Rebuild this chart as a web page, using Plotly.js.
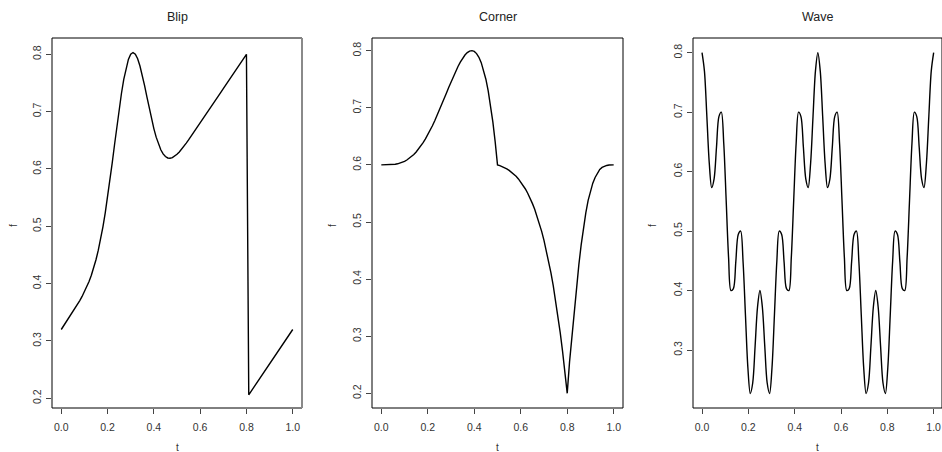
<!DOCTYPE html>
<html>
<head>
<meta charset="utf-8">
<script src="https://cdn.plot.ly/plotly-3.0.1.min.js"></script>
<style>
  html, body { margin: 0; padding: 0; background: #fff; }
  #chart { width: 942px; height: 452px; }
</style>
</head>
<body>
<div id="chart"></div>
<script>
// ---------- data ----------
const panelTitles = ['Blip', 'Corner', 'Wave'];

const tGrid = [0,0.01,0.02,0.03,0.04,0.05,0.06,0.07,0.08,0.09,
  0.10,0.11,0.12,0.13,0.14,0.15,0.16,0.17,0.18,0.19,
  0.20,0.21,0.22,0.23,0.24,0.25,0.26,0.27,0.28,0.29,
  0.30,0.31,0.32,0.33,0.34,0.35,0.36,0.37,0.38,0.39,
  0.40,0.41,0.42,0.43,0.44,0.45,0.46,0.47,0.48,0.49,
  0.50,0.51,0.52,0.53,0.54,0.55,0.56,0.57,0.58,0.59,
  0.60,0.61,0.62,0.63,0.64,0.65,0.66,0.67,0.68,0.69,
  0.70,0.71,0.72,0.73,0.74,0.75,0.76,0.77,0.78,0.79,
  0.80,0.81,0.82,0.83,0.84,0.85,0.86,0.87,0.88,0.89,
  0.90,0.91,0.92,0.93,0.94,0.95,0.96,0.97,0.98,0.99,1.00];

const blipF = [0.3200,0.3261,0.3321,0.3382,0.3444,0.3506,0.3570,0.3635,0.3704,0.3777,
  0.3855,0.3941,0.4038,0.4147,0.4272,0.4416,0.4583,0.4774,0.4991,0.5235,
  0.5504,0.5795,0.6102,0.6418,0.6733,0.7036,0.7316,0.7562,0.7762,0.7910,
  0.8000,0.8030,0.8002,0.7922,0.7796,0.7636,0.7453,0.7258,0.7062,0.6875,
  0.6704,0.6555,0.6431,0.6334,0.6263,0.6216,0.6192,0.6187,0.6198,0.6221,
  0.6255,0.6297,0.6344,0.6395,0.6450,0.6506,0.6564,0.6622,0.6681,0.6741,
  0.6800,0.686,0.692,0.698,0.704,0.710,0.716,0.722,0.728,0.734,
  0.740,0.746,0.752,0.758,0.764,0.770,0.776,0.782,0.788,0.794,
  0.800,0.206,0.212,0.218,0.224,0.230,0.236,0.242,0.248,0.254,
  0.260,0.266,0.272,0.278,0.284,0.290,0.296,0.302,0.308,0.314,0.320];

const cornerF = [0.6000,0.6000,0.6000,0.6001,0.6003,0.6006,0.6011,0.6019,0.6030,0.6044,
  0.6062,0.6085,0.6112,0.6144,0.6181,0.6225,0.6273,0.6328,0.6389,0.6455,
  0.6527,0.6604,0.6686,0.6773,0.6864,0.6959,0.7056,0.7155,0.7254,0.7354,
  0.7452,0.7547,0.7638,0.7723,0.7800,0.7867,0.7924,0.7966,0.7992,0.8000,
  0.7987,0.7949,0.7885,0.7791,0.7664,0.7500,0.7296,0.7048,0.6752,0.6404,
  0.6000,0.5987,0.5971,0.5952,0.5930,0.5904,0.5874,0.5840,0.5800,0.5754,
  0.5702,0.5644,0.5578,0.5503,0.5420,0.5326,0.5222,0.5106,0.4978,0.4836,
  0.4679,0.4507,0.4317,0.4108,0.3880,0.3630,0.3357,0.3060,0.2736,0.2383,
  0.2000,0.2550,0.3000,0.3420,0.3850,0.4250,0.4600,0.4900,0.5160,0.5380,
  0.5550,0.5680,0.5780,0.5860,0.5920,0.5955,0.5980,0.5990,0.5997,0.6000,0.6000];

const waveT = [0,0.0104,0.0208,0.0313,0.0417,0.0521,0.0625,0.0729,0.0833,0.0938,
  0.1042,0.1146,0.125,0.1354,0.1458,0.1563,0.1667,0.1771,0.1875,0.1979,
  0.2083,0.2188,0.2292,0.2396,0.25,0.2604,0.2708,0.2813,0.2917,0.3021,
  0.3125,0.3229,0.3333,0.3438,0.3542,0.3646,0.375,0.3854,0.3958,0.4063,
  0.4167,0.4271,0.4375,0.4479,0.4583,0.4688,0.4792,0.4896,0.5,0.5104,
  0.5208,0.5313,0.5417,0.5521,0.5625,0.5729,0.5833,0.5938,0.6042,0.6146,
  0.625,0.6354,0.6458,0.6563,0.6667,0.6771,0.6875,0.6979,0.7083,0.7188,
  0.7292,0.7396,0.75,0.7604,0.7708,0.7813,0.7917,0.8021,0.8125,0.8229,
  0.8333,0.8438,0.8542,0.8646,0.875,0.8854,0.8958,0.9063,0.9167,0.9271,
  0.9375,0.9479,0.9583,0.9688,0.9792,0.9896,1];

const waveF = [0.8,0.769,0.6932,0.6141,0.5732,0.588,0.6414,0.6925,0.7,0.6473,
  0.5518,0.4554,0.4,0.4032,0.4482,0.4942,0.5,0.449,0.3586,0.2706,
  0.2268,0.2445,0.3068,0.3724,0.4,0.3724,0.3068,0.2445,0.2268,0.2706,
  0.3586,0.449,0.5,0.4942,0.4482,0.4032,0.4,0.4554,0.5518,0.6473,
  0.7,0.6925,0.6414,0.588,0.5732,0.6141,0.6932,0.769,0.8,0.769,
  0.6932,0.6141,0.5732,0.588,0.6414,0.6925,0.7,0.6473,0.5518,0.4554,
  0.4,0.4032,0.4482,0.4942,0.5,0.449,0.3586,0.2706,0.2268,0.2445,
  0.3068,0.3724,0.4,0.3724,0.3068,0.2445,0.2268,0.2706,0.3586,0.449,
  0.5,0.4942,0.4482,0.4032,0.4,0.4554,0.5518,0.6473,0.7,0.6925,
  0.6414,0.588,0.5732,0.6141,0.6932,0.769,0.8];

const xTickVals = [0, 0.2, 0.4, 0.6, 0.8, 1.0];
const xTickText = ['0.0', '0.2', '0.4', '0.6', '0.8', '1.0'];
const yTickValsBC = [0.2, 0.3, 0.4, 0.5, 0.6, 0.7, 0.8];
const yTickValsW = [0.3, 0.4, 0.5, 0.6, 0.7, 0.8];
const xLabel = 't';
const yLabel = 'f';

// ---------- layout geometry (pixels -> paper) ----------
const W = 942, H = 452;
const boxes = [ [52, 302], [372, 623], [693, 942] ];
const yTopPx = 38, yBotPx = 408;
const yDom = [1 - yBotPx / H, 1 - yTopPx / H];
const xRanges = [[-0.04, 1.04], [-0.04, 1.04], [-0.039, 1.036]];
const yRanges = [[0.1831, 0.8284], [0.1743, 0.8222], [0.2025, 0.8247]];
const yLabelX = [13, 332, 652];

const textCol = '#333';
const fontFam = 'Liberation Sans, Arial, Helvetica, sans-serif';

const traces = [
  { x: tGrid, y: blipF, xaxis: 'x', yaxis: 'y' },
  { x: tGrid, y: cornerF, xaxis: 'x2', yaxis: 'y2' },
  { x: waveT, y: waveF, xaxis: 'x3', yaxis: 'y3', line: { shape: 'spline', smoothing: 0.9 } }
].map(tr => Object.assign({
  type: 'scatter', mode: 'lines', hoverinfo: 'skip', showlegend: false
}, tr, { line: Object.assign({ color: '#000', width: 1.4 }, tr.line || {}) }));

const layout = {
  width: W, height: H,
  margin: { l: 0, r: 0, t: 0, b: 0 },
  paper_bgcolor: '#fff', plot_bgcolor: '#fff',
  font: { family: fontFam, color: textCol, size: 10 },
  showlegend: false,
  annotations: [],
  shapes: []
};

for (let i = 0; i < 3; i++) {
  const s = i === 0 ? '' : String(i + 1);
  layout['xaxis' + s] = {
    domain: [boxes[i][0] / W, boxes[i][1] / W],
    range: xRanges[i],
    anchor: 'y' + s,
    tickvals: xTickVals, ticktext: xTickText,
    ticks: 'outside', ticklen: 5, tickwidth: 1, tickcolor: '#444',
    ticklabelstandoff: 4,
    showgrid: false, zeroline: false, showline: false,
    tickfont: { size: 10.5, color: textCol, family: fontFam }
  };
  layout['yaxis' + s] = {
    domain: yDom,
    range: yRanges[i],
    anchor: 'x' + s,
    tickvals: i === 2 ? yTickValsW : yTickValsBC,
    ticktext: (i === 2 ? yTickValsW : yTickValsBC).map(v => v.toFixed(1)),
    tickangle: -90,
    ticks: 'outside', ticklen: 5, tickwidth: 1, tickcolor: '#444',
    ticklabelstandoff: 1,
    showgrid: false, zeroline: false, showline: false,
    tickfont: { size: 10.5, color: textCol, family: fontFam }
  };
  // panel title
  layout.annotations.push({
    text: panelTitles[i], xref: 'paper', yref: 'paper',
    x: (boxes[i][0] + boxes[i][1]) / 2 / W, y: 1 - 17 / H,
    xanchor: 'center', yanchor: 'middle', showarrow: false,
    font: { size: 12.5, color: '#222', family: fontFam }
  });
  // x-axis label
  layout.annotations.push({
    text: xLabel, xref: 'paper', yref: 'paper',
    x: (boxes[i][0] + boxes[i][1]) / 2 / W, y: 1 - 447.5 / H,
    xanchor: 'center', yanchor: 'middle', showarrow: false,
    font: { size: 10, color: textCol, family: fontFam }
  });
  // y-axis label
  layout.annotations.push({
    text: yLabel, xref: 'paper', yref: 'paper',
    x: yLabelX[i] / W, y: 1 - 226 / H,
    xanchor: 'center', yanchor: 'middle', showarrow: false, textangle: -90,
    font: { size: 10, color: textCol, family: fontFam }
  });
  // box
  const xr = 'x' + s + ' domain', yr = 'y' + s + ' domain';
  const edges = [
    [0, 0, 0, 1, '#000'], [0, 1, 1, 1, '#000'], [0, 0, 1, 0, '#000'],
    [1, 0, 1, 1, i === 0 ? '#8a8a8a' : '#000']
  ];
  edges.forEach(e => layout.shapes.push({
    type: 'line', xref: xr, yref: yr, x0: e[0], y0: e[1], x1: e[2], y1: e[3],
    line: { color: e[4], width: i === 0 && e[0] === 1 && e[2] === 1 ? 2 : 1 }
  }));
}

Plotly.newPlot('chart', traces, layout, { displayModeBar: false, staticPlot: true });
</script>
</body>
</html>
